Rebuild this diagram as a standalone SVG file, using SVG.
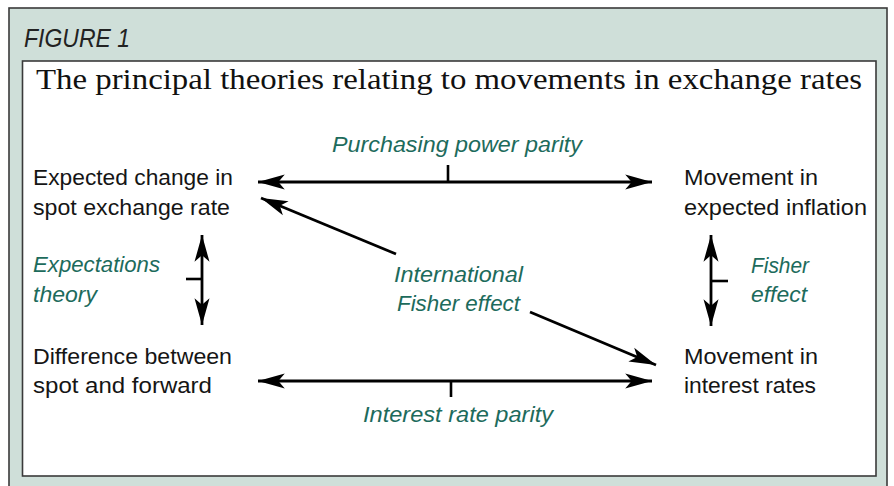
<svg xmlns="http://www.w3.org/2000/svg" width="894" height="486" viewBox="0 0 894 486">
  <style>
    .frame { fill: #cfdfd9; stroke: #3a3a3a; stroke-width: 1.6; }
    .panel { fill: #ffffff; stroke: #3a3a3a; stroke-width: 1.6; }
    .fig { font-family: "Liberation Sans", "DejaVu Sans", sans-serif; font-style: italic; font-size: 25px; fill: #222222; }
    .title { font-family: "Liberation Serif", "DejaVu Serif", serif; font-size: 30px; fill: #111111; }
    .node { font-family: "Liberation Sans", "DejaVu Sans", sans-serif; font-size: 22.5px; fill: #151515; }
    .lbl { font-family: "Liberation Sans", "DejaVu Sans", sans-serif; font-style: italic; font-size: 22px; fill: #1d6b5c; }
    .conn { stroke: #000000; stroke-width: 2.8; fill: none; }
    .tick { stroke: #000000; stroke-width: 2.6; fill: none; }
  </style>
  <defs>
    <marker id="head" markerUnits="userSpaceOnUse" markerWidth="30" markerHeight="20" viewBox="-26 -8 28 16" refX="0" refY="0" orient="auto-start-reverse">
      <path d="M0,0 L-25,-7 L-19,0 L-25,7 Z" fill="#000000"/>
    </marker>
  </defs>

  <!-- outer frame and white panel -->
  <rect class="frame" x="9" y="8" width="878" height="490"/>
  <rect class="panel" x="22.5" y="61" width="853.5" height="415"/>

  <text class="fig" x="24" y="47" textLength="106" lengthAdjust="spacingAndGlyphs">FIGURE 1</text>
  <text class="title" x="36" y="89" textLength="826" lengthAdjust="spacingAndGlyphs">The principal theories relating to movements in exchange rates</text>

  <!-- nodes -->
  <g id="spot-change">
    <text class="node" x="33" y="185" textLength="200" lengthAdjust="spacingAndGlyphs">Expected change in</text>
    <text class="node" x="33" y="215" textLength="197" lengthAdjust="spacingAndGlyphs">spot exchange rate</text>
  </g>
  <g id="inflation">
    <text class="node" x="684" y="185" textLength="134" lengthAdjust="spacingAndGlyphs">Movement in</text>
    <text class="node" x="684" y="215" textLength="183" lengthAdjust="spacingAndGlyphs">expected inflation</text>
  </g>
  <g id="spot-forward">
    <text class="node" x="33" y="364" textLength="199" lengthAdjust="spacingAndGlyphs">Difference between</text>
    <text class="node" x="33" y="393" textLength="179" lengthAdjust="spacingAndGlyphs">spot and forward</text>
  </g>
  <g id="interest">
    <text class="node" x="684" y="364" textLength="134" lengthAdjust="spacingAndGlyphs">Movement in</text>
    <text class="node" x="684" y="393" textLength="132" lengthAdjust="spacingAndGlyphs">interest rates</text>
  </g>

  <!-- connectors and their labels -->
  <g id="connectors">
    <!-- purchasing power parity -->
    <line class="conn" x1="258" y1="182" x2="652" y2="182" marker-start="url(#head)" marker-end="url(#head)"/>
    <line class="tick" x1="448" y1="165" x2="448" y2="182"/>
    <text class="lbl" x="332" y="152" textLength="250" lengthAdjust="spacingAndGlyphs">Purchasing power parity</text>

    <!-- interest rate parity -->
    <line class="conn" x1="258" y1="381" x2="652" y2="381" marker-start="url(#head)" marker-end="url(#head)"/>
    <line class="tick" x1="451" y1="381" x2="451" y2="397"/>
    <text class="lbl" x="363" y="422" textLength="190" lengthAdjust="spacingAndGlyphs">Interest rate parity</text>

    <!-- expectations theory -->
    <line class="conn" x1="202" y1="235" x2="202" y2="325" marker-start="url(#head)" marker-end="url(#head)"/>
    <line class="tick" x1="186" y1="279" x2="202" y2="279"/>
    <text class="lbl" x="33" y="272" textLength="127" lengthAdjust="spacingAndGlyphs">Expectations</text>
    <text class="lbl" x="33" y="302" textLength="64" lengthAdjust="spacingAndGlyphs">theory</text>

    <!-- fisher effect -->
    <line class="conn" x1="711" y1="235" x2="711" y2="326" marker-start="url(#head)" marker-end="url(#head)"/>
    <line class="tick" x1="711" y1="281" x2="728" y2="281"/>
    <text class="lbl" x="751" y="273" textLength="58" lengthAdjust="spacingAndGlyphs">Fisher</text>
    <text class="lbl" x="751" y="302" textLength="56" lengthAdjust="spacingAndGlyphs">effect</text>

    <!-- international fisher effect -->
    <line class="conn" x1="396" y1="254" x2="261" y2="198" marker-end="url(#head)"/>
    <line class="conn" x1="530" y1="312" x2="656" y2="365" marker-end="url(#head)"/>
    <text class="lbl" x="394" y="282" textLength="129" lengthAdjust="spacingAndGlyphs">International</text>
    <text class="lbl" x="397" y="311" textLength="123" lengthAdjust="spacingAndGlyphs">Fisher effect</text>
  </g>
</svg>
